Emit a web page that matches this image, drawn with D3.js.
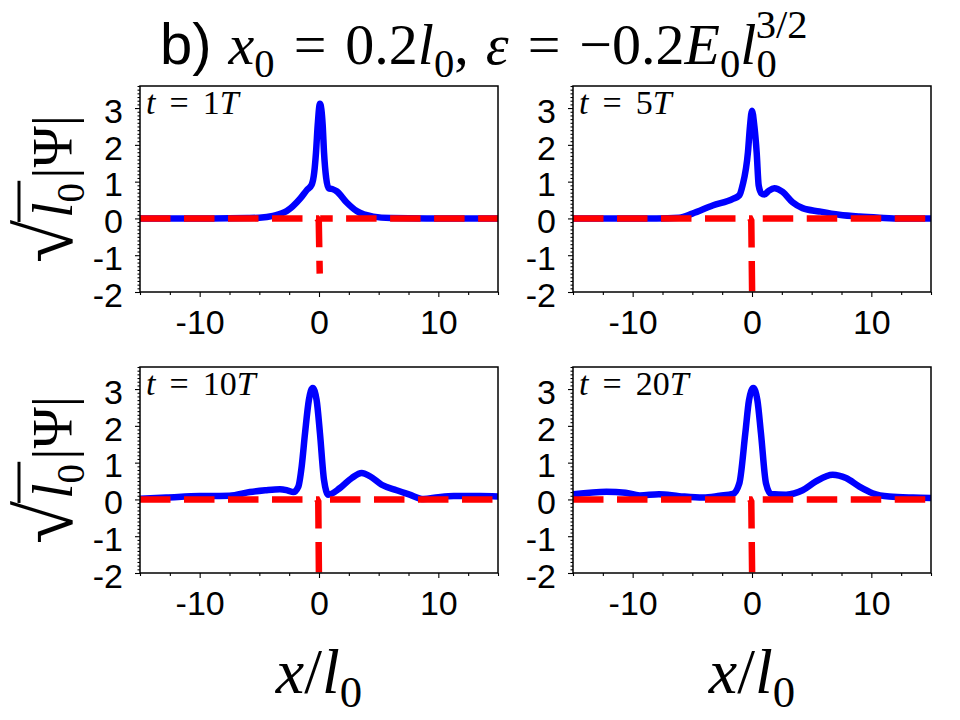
<!DOCTYPE html>
<html>
<head>
<meta charset="utf-8">
<script src="https://cdn.jsdelivr.net/npm/d3@7"></script>
<style>
  body { margin: 0; background: #fff; }
</style>
</head>
<body>
<div id="chart"></div>
<script>
// data
const xDomain = [-15, 15];
const yDomain = [-2, 3.6];
const xTickLabels = [-10, 0, 10];
const yTickLabels = [-2, -1, 0, 1, 2, 3];
const panelTimes = ["1", "5", "10", "20"];

const psiT1 = [[-15,0],[-9,0],[-6,0.01],[-5,0.02],[-3.85,0.07],[-2.7,0.2],[-1.6,0.53],[-1.0,0.78],[-0.61,0.92],
  [-0.4,1.25],[-0.25,1.8],[-0.11,2.53],[0.08,3.12],[0.31,2.53],[0.42,1.8],[0.6,1.1],[0.8,0.82],[1.1,0.8],
  [1.48,0.74],[2.3,0.44],[3.16,0.2],[4.55,0.05],[6,0.01],[9,0],[15,0]];
const psiT5 = [[-15,0],[-8,0],[-6.1,0.02],[-5,0.13],[-3.3,0.35],[-1.6,0.53],[-1.06,0.63],[-0.79,0.9],[-0.34,1.8],
  [-0.17,2.5],[0,2.93],[0.2,2.5],[0.39,1.8],[0.56,0.9],[0.8,0.68],[1.03,0.65],[1.4,0.75],[1.87,0.82],[2.57,0.72],
  [3.4,0.44],[4.24,0.28],[5.64,0.19],[7.3,0.1],[9,0.05],[10.7,0.02],[12.5,0],[15,0]];
const psiT10 = [[-15,0.02],[-12.8,0.05],[-10,0.09],[-7.5,0.1],[-5.8,0.2],[-4.5,0.25],[-3.27,0.28],[-2.6,0.24],
  [-2.15,0.2],[-1.73,0.35],[-1.45,0.9],[-1.17,1.8],[-0.85,2.7],[-0.53,3.03],[-0.2,2.7],[0.08,1.8],[0.42,0.53],
  [0.78,0.13],[1.76,0.31],[2.74,0.58],[3.58,0.72],[4.27,0.63],[5.25,0.4],[6.5,0.25],[7.6,0.13],[8.75,0.01],
  [10,0.06],[11.3,0.09],[13.5,0.09],[15,0.08]];
const psiT20 = [[-15,0.14],[-12.2,0.21],[-10.6,0.18],[-9.4,0.11],[-7.8,0.14],[-6.1,0.09],[-4.1,0.05],[-2.7,0.1],
  [-1.6,0.15],[-1.06,0.44],[-0.56,1.8],[-0.25,2.7],[0.11,3.03],[0.45,2.7],[0.75,1.8],[1.17,0.44],[1.59,0.15],
  [2.85,0.13],[4.24,0.25],[5.36,0.49],[6.76,0.67],[7.88,0.58],[9,0.35],[10.1,0.17],[11.5,0.08],[13.5,0.05],[15,0.04]];

// red dashed curve: visible pieces around the narrow dip at the origin (null = break)
const potT1 = [[-15,0],[-0.15,0],[-0.02,-0.06],[0.06,-1.5],null,[0.1,0],[1.15,0],null,[2.27,0],[15,0]];
const potT5 = [[-15,0],[-0.15,0],[-0.06,-0.06],[0.02,-2.3],null,[0.9,0],[15,0]];
const potT10 = [[-15,0],[-0.15,0],[-0.06,-0.06],[0.0,-2.3],null,[0.92,0],[15,0]];
const potT20 = [[-15,0],[-0.15,0],[-0.06,-0.06],[0.02,-2.3],null,[0.9,0],[15,0]];

const psiSeries = [psiT1, psiT5, psiT10, psiT20];
const potSeries = [potT1, potT5, potT10, potT20];

// layout
const width = 960, height = 720;
const panelW = 358, panelH = 206;
const colX = [140, 573];
const rowY = [86, 367];
const sansFont = "'Liberation Sans', Arial, sans-serif";
const serifFont = "'Liberation Serif', 'Times New Roman', serif";

const svg = d3.select("#chart")
    .append("svg")
    .attr("width", width)
    .attr("height", height);

svg.append("rect").attr("width", width).attr("height", height).attr("fill", "#fff");

// writes math-like text into a <text> using tspans (italic, sub, sup)
function mathText(text, parts, size) {
    let shift = 0;
    parts.forEach(p => {
        const target = p.sub ? size * 0.22 : p.sup ? -size * 0.45 : 0;
        const small = p.sub || p.sup;
        text.append("tspan")
            .attr("dy", target - shift)
            .attr("dx", p.dx || 0)
            .style("font-size", (small ? size * 0.7 : (p.scale ? size * p.scale : size)) + "px")
            .style("font-style", p.it ? "italic" : "normal")
            .style("font-family", p.sans ? sansFont : serifFont)
            .text(p.t);
        shift = target;
    });
}

const xMinor = d3.range(-15, 15.01, 2.5).filter(v => !xTickLabels.includes(v));
const yMinor = d3.range(-20, 36.01, 1).map(v => v / 10).filter(v => !yTickLabels.includes(v));

psiSeries.forEach((psi, i) => {
    const col = i % 2, row = Math.floor(i / 2);
    const g = svg.append("g")
        .attr("transform", `translate(${colX[col]},${rowY[row]})`);

    const x = d3.scaleLinear().domain(xDomain).range([0, panelW]);
    const y = d3.scaleLinear().domain(yDomain).range([panelH, 0]);

    g.append("clipPath").attr("id", "clip" + i)
        .append("rect").attr("width", panelW).attr("height", panelH);

    g.append("path")
        .datum(psi)
        .attr("clip-path", `url(#clip${i})`)
        .attr("fill", "none")
        .attr("stroke", "#0000ff")
        .attr("stroke-width", 6.5)
        .attr("stroke-linejoin", "round")
        .attr("d", d3.line().x(d => x(d[0])).y(d => y(d[1])).curve(d3.curveMonotoneX));

    g.append("path")
        .datum(potSeries[i])
        .attr("clip-path", `url(#clip${i})`)
        .attr("fill", "none")
        .attr("stroke", "#ff0000")
        .attr("stroke-width", 6.5)
        .attr("stroke-dasharray", "30.5,13.5")
        .attr("d", d3.line().defined(d => d !== null).x(d => x(d[0])).y(d => y(d[1])));

    // frame
    g.append("rect")
        .attr("width", panelW).attr("height", panelH)
        .attr("fill", "none").attr("stroke", "#000").attr("stroke-width", 1.5);

    // x axis
    const xAxisMinor = g.append("g")
        .attr("transform", `translate(0,${panelH})`)
        .call(d3.axisBottom(x).tickValues(xMinor).tickSize(3).tickFormat(""));
    const xAxis = g.append("g")
        .attr("transform", `translate(0,${panelH})`)
        .call(d3.axisBottom(x).tickValues(xTickLabels).tickSize(5).tickPadding(13).tickFormat(d => String(d)));

    // y axis
    const yAxisMinor = g.append("g")
        .call(d3.axisLeft(y).tickValues(yMinor).tickSize(2.5).tickFormat(""));
    const yAxis = g.append("g")
        .call(d3.axisLeft(y).tickValues(yTickLabels).tickSize(5).tickPadding(12).tickFormat(d => String(d)));

    [xAxisMinor, xAxis, yAxisMinor, yAxis].forEach(a => {
        a.select(".domain").remove();
        a.selectAll(".tick line").attr("stroke", "#000").attr("stroke-width", 1.1);
        a.selectAll("text")
            .attr("fill", "#000")
            .style("font-family", sansFont)
            .style("font-size", "34px");
    });
    yAxis.selectAll("text").attr("dy", "0.42em");

    // time label
    const tl = g.append("text")
        .attr("x", 6)
        .attr("y", 28)
        .attr("fill", "#000");
    mathText(tl, [
        { t: "t", it: true },
        { t: "=", dx: 14 },
        { t: panelTimes[i], dx: 14 },
        { t: "T", it: true }
    ], 34);
});

// y labels
rowY.forEach(top => {
    const g = svg.append("g")
        .attr("transform", `translate(72,${top + panelH / 2}) rotate(-90)`);
    const t = g.append("text")
        .attr("text-anchor", "middle")
        .attr("fill", "#000");
    mathText(t, [
        { t: "\u221A", scale: 1.4 },
        { t: "l", it: true, dx: 2 },
        { t: "0", sub: true },
        { t: "|", dx: 4 },
        { t: "\u03A8" },
        { t: "|" }
    ], 56);
    // radical bar over l0
    const node = t.node();
    const s = node.getExtentOfChar(0);
    const e = node.getExtentOfChar(2);
    g.append("line")
        .attr("x1", s.x + s.width - 2)
        .attr("x2", e.x + e.width + 2)
        .attr("y1", -53)
        .attr("y2", -53)
        .attr("stroke", "#000")
        .attr("stroke-width", 3);
});

// x labels
colX.forEach(left => {
    const t = svg.append("text")
        .attr("x", left + panelW / 2)
        .attr("y", 693)
        .attr("text-anchor", "middle")
        .attr("fill", "#000");
    mathText(t, [
        { t: "x", it: true },
        { t: "/" },
        { t: "l", it: true },
        { t: "0", sub: true }
    ], 64);
});

// title
const title = svg.append("text")
    .attr("x", 160)
    .attr("y", 64)
    .attr("fill", "#000");
mathText(title, [
    { t: "b)", sans: true },
    { t: "x", it: true, dx: 17 },
    { t: "0", sub: true },
    { t: "=", dx: 19 },
    { t: "0.2", dx: 19 },
    { t: "l", it: true },
    { t: "0", sub: true },
    { t: ",", },
    { t: "\u03B5", it: true, dx: 17 },
    { t: "=", dx: 19 },
    { t: "\u22120.2", dx: 19 },
    { t: "E", it: true },
    { t: "0", sub: true },
    { t: "l", it: true },
    { t: "0", sub: true },
    { t: "3/2", sup: true, dx: -21 }
], 58);
</script>
</body>
</html>
